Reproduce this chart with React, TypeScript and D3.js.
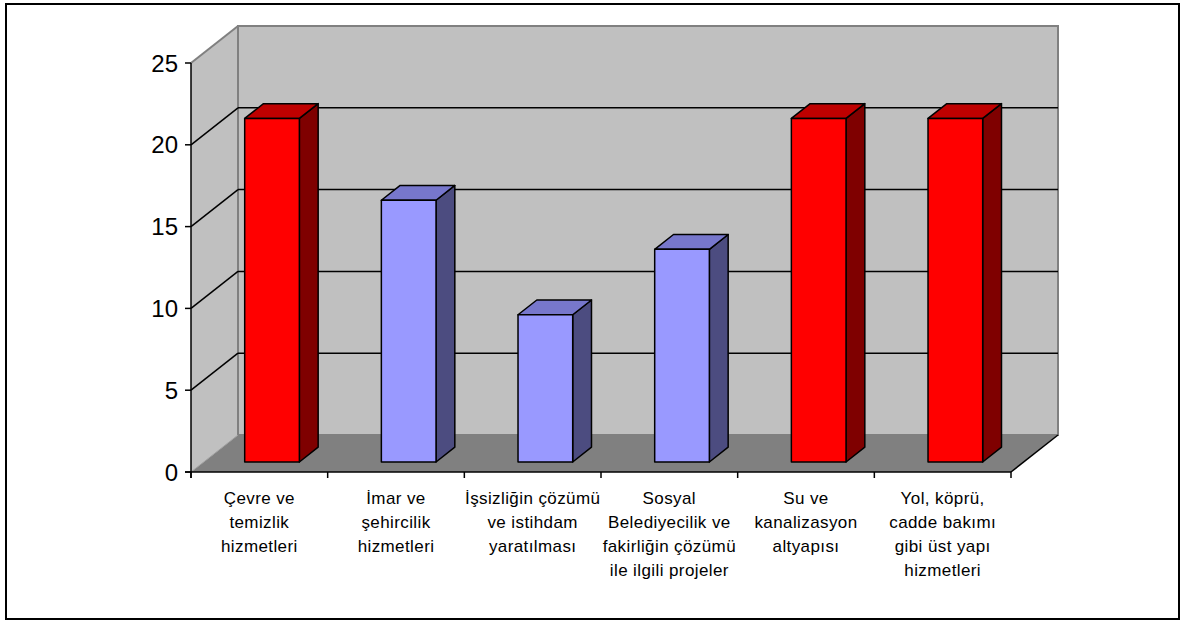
import React from "react";
import * as d3 from "d3";

// Survey categories (each label split into its drawn lines)
const categories: string[][] = [
  ["Çevre ve", "temizlik", "hizmetleri"],
  ["İmar ve", "şehircilik", "hizmetleri"],
  ["İşsizliğin çözümü", "ve istihdam", "yaratılması"],
  ["Sosyal", "Belediyecilik ve", "fakirliğin çözümü", "ile ilgili projeler"],
  ["Su ve", "kanalizasyon", "altyapısı"],
  ["Yol, köprü,", "cadde bakımı", "gibi üst yapı", "hizmetleri"],
];
const values: number[] = [21, 16, 9, 13, 21, 21];
const highlighted: boolean[] = [true, false, false, false, true, true];
const yTicks: number[] = [0, 5, 10, 15, 20, 25];

const W = 1187;
const H = 622;

// Front plane of the 3D box
const left = 191;
const right = 1011;
const bottom = 472;
const top = 63;
// Depth vector from front plane to back wall
const DX = 47;
const DY = -37;
// Bars occupy this slice of the depth
const F1 = 0.27;
const F2 = 0.67;

const palette = {
  red: { front: "#FF0000", top: "#BF0000", side: "#7F0000" },
  blue: { front: "#9999FF", top: "#7777CC", side: "#4C4C80" },
};

export default function App() {
  const ids = categories.map((_, i) => String(i));
  const x = d3
    .scaleBand<string>()
    .domain(ids)
    .range([left, right])
    .paddingInner(0.6)
    .paddingOuter(0.3);
  const y = d3.scaleLinear().domain([0, 25]).range([bottom, top]);
  const step = x.step();
  const bw = x.bandwidth();

  const pts = (p: [number, number][]) => p.map((q) => q.join(",")).join(" ");

  return (
    <svg
      width={W}
      height={H}
      style={{ position: "absolute", left: 0, top: 0, background: "#fff" }}
      fontFamily="'Liberation Sans', Arial, sans-serif"
    >
      <rect x={6} y={4} width={1173} height={615} fill="#fff" stroke="#000" strokeWidth={2} />

      {/* left wall */}
      <polygon
        points={pts([
          [left, y(0)],
          [left, y(25)],
          [left + DX, y(25) + DY],
          [left + DX, y(0) + DY],
        ])}
        fill="#C0C0C0"
      />
      {/* back wall */}
      <polygon
        points={pts([
          [left + DX, y(25) + DY],
          [right + DX, y(25) + DY],
          [right + DX, y(0) + DY],
          [left + DX, y(0) + DY],
        ])}
        fill="#C0C0C0"
        stroke="#808080"
        strokeWidth={2}
      />
      {/* floor */}
      <polygon
        points={pts([
          [left, y(0)],
          [right, y(0)],
          [right + DX, y(0) + DY],
          [left + DX, y(0) + DY],
        ])}
        fill="#808080"
      />
      <line x1={left} y1={y(25)} x2={left + DX} y2={y(25) + DY} stroke="#808080" strokeWidth={2} />
      <line x1={left} y1={y(0)} x2={left + DX} y2={y(0) + DY} stroke="#A0A0A0" strokeWidth={1} />
      <line x1={right} y1={y(0)} x2={right + DX} y2={y(0) + DY} stroke="#000" strokeWidth={1.5} />

      {/* gridlines */}
      {yTicks
        .filter((t) => t > 0 && t < 25)
        .map((t) => (
          <g key={"g" + t} stroke="#000" strokeWidth={1.5}>
            <line x1={left} y1={y(t)} x2={left + DX} y2={y(t) + DY} />
            <line x1={left + DX} y1={y(t) + DY} x2={right + DX} y2={y(t) + DY} />
          </g>
        ))}

      {/* bars */}
      {values.map((v, i) => {
        const c = highlighted[i] ? palette.red : palette.blue;
        const x0 = (x(String(i)) as number) + F1 * DX;
        const x1 = x0 + bw;
        const yb = y(0) + F1 * DY;
        const yt = y(v) + F1 * DY;
        const ddx = (F2 - F1) * DX;
        const ddy = (F2 - F1) * DY;
        return (
          <g key={"b" + i} stroke="#000" strokeWidth={1.5} strokeLinejoin="round">
            <polygon
              points={pts([
                [x1, yb],
                [x1, yt],
                [x1 + ddx, yt + ddy],
                [x1 + ddx, yb + ddy],
              ])}
              fill={c.side}
            />
            <polygon
              points={pts([
                [x0, yt],
                [x1, yt],
                [x1 + ddx, yt + ddy],
                [x0 + ddx, yt + ddy],
              ])}
              fill={c.top}
            />
            <rect x={x0} y={yt} width={bw} height={yb - yt} fill={c.front} />
          </g>
        );
      })}

      {/* value axis */}
      <line x1={left} y1={y(25)} x2={left} y2={y(0) + 6} stroke="#000" strokeWidth={1.5} />
      {yTicks.map((t) => (
        <g key={"t" + t}>
          <line x1={left - 6} y1={y(t)} x2={left} y2={y(t)} stroke="#000" strokeWidth={1.5} />
          <text x={178} y={y(t)} dy="0.36em" textAnchor="end" fontSize={24} fill="#000">
            {t}
          </text>
        </g>
      ))}

      {/* category axis */}
      <line x1={left - 6} y1={y(0)} x2={right} y2={y(0)} stroke="#000" strokeWidth={1.5} />
      {d3.range(categories.length + 1).map((k) => (
        <line
          key={"c" + k}
          x1={left + k * step}
          y1={y(0)}
          x2={left + k * step}
          y2={y(0) + 6}
          stroke="#000"
          strokeWidth={1.5}
        />
      ))}
      {categories.map((lines, i) => (
        <text
          key={"l" + i}
          x={left + (i + 0.5) * step}
          y={504}
          textAnchor="middle"
          fontSize={17}
          letterSpacing={0.4}
          fill="#000"
        >
          {lines.map((ln, j) => (
            <tspan key={j} x={left + (i + 0.5) * step} y={504 + j * 24}>
              {ln}
            </tspan>
          ))}
        </text>
      ))}
    </svg>
  );
}
